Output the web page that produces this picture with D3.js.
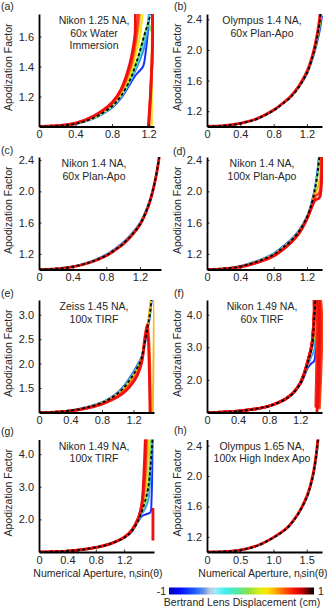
<!DOCTYPE html>
<html><head><meta charset="utf-8">
<script src="https://cdn.jsdelivr.net/npm/d3@7"></script>
<style>
html,body{margin:0;padding:0;background:#fff;}
svg{display:block;}
</style></head><body>
<svg id="chart" width="327" height="608"></svg>
<script>
// ================= DATA =================
// titles
const titleA = ["Nikon 1.25 NA,", "60x Water", "Immersion"];
const titleB = ["Olympus 1.4 NA,", "60x Plan-Apo"];
const titleC = ["Nikon 1.4 NA,", "60x Plan-Apo"];
const titleD = ["Nikon 1.4 NA,", "100x Plan-Apo"];
const titleE = ["Zeiss 1.45 NA,", "100x TIRF"];
const titleF = ["Nikon 1.49 NA,", "60x TIRF"];
const titleG = ["Nikon 1.49 NA,", "100x TIRF"];
const titleH = ["Olympus 1.65 NA,", "100x High Index Apo"];

// tick values / labels
const xTicks04 = [0, 0.4, 0.8, 1.2];
const xTickLabels04 = ["0", "0.4", "0.8", "1.2"];
const xTicks05 = [0, 0.5, 1.0, 1.5];
const xTickLabels05 = ["0", "0.5", "1.0", "1.5"];
const yTicksA = [1.2, 1.4, 1.6];
const yTickLabelsA = ["1.2", "1.4", "1.6"];
const yTicks24 = [1.2, 1.6, 2.0, 2.4];
const yTickLabels24 = ["1.2", "1.6", "2.0", "2.4"];
const yTicksE = [1.5, 2.0, 2.5, 3.0];
const yTickLabelsE = ["1.5", "2.0", "2.5", "3.0"];
const yTicks4 = [2.0, 3.0, 4.0];
const yTickLabels4 = ["2.0", "3.0", "4.0"];

// colour of each Bertrand-lens displacement (cm)
const dispColorDomain = [-1, -0.6, -0.3, 0, 0.3, 0.6, 0.8, 1];
const dispColorRange = ["#1830ff", "#3c8cf0", "#40d4f0", "#7ee050", "#f0e818", "#ff9a10", "#ff4010", "#ee1010"];

// colour bar stops (position 0..1 from -1 to 1)
const colorbarPos = [0, 0.08, 0.18, 0.24, 0.28, 0.32, 0.38, 0.47, 0.55, 0.63, 0.68, 0.73, 0.79, 0.86, 0.92, 0.97, 1];
const colorbarCol = ["#0000c0", "#0010ff", "#2060ff", "#6090f0", "#b8c8d8", "#a0e8f8", "#40f0f0", "#50e8a8", "#90e040", "#e0f010", "#ffe000", "#ffb000", "#ff6000", "#ff1000", "#c00000", "#400000", "#100000"];

// ---- (a) Nikon 1.25 NA water ----
const aNominal = [[0,1],[0.2,1.004],[0.4,1.018],[0.6,1.058],[0.8,1.135],[0.9,1.205],[1.0,1.315],[1.05,1.395],[1.1,1.49],[1.15,1.60],[1.2,1.70],[1.23,1.78]];
const aDisp = [-1, -0.6, -0.3, 0, 0.3, 0.6, 0.8, 1];
const aCurves = [
 [[0,1],[0.2,1.004],[0.4,1.017],[0.6,1.054],[0.8,1.125],[0.9,1.19],[1.0,1.285],[1.05,1.335],[1.1,1.37],[1.14,1.40],[1.17,1.50],[1.2,1.68],[1.22,1.85]],
 [[0,1],[0.2,1.004],[0.4,1.017],[0.6,1.055],[0.8,1.129],[0.9,1.197],[1.0,1.30],[1.05,1.365],[1.1,1.435],[1.15,1.52],[1.19,1.65],[1.21,1.85]],
 [[0,1],[0.2,1.004],[0.4,1.017],[0.6,1.056],[0.8,1.131],[0.9,1.20],[1.0,1.305],[1.05,1.38],[1.1,1.46],[1.15,1.57],[1.2,1.71],[1.23,1.85]],
 [[0,1],[0.2,1.004],[0.4,1.018],[0.6,1.058],[0.8,1.135],[0.9,1.21],[1.0,1.32],[1.05,1.40],[1.1,1.49],[1.15,1.60],[1.2,1.69],[1.225,1.64],[1.232,1.64],[1.232,1.30]],
 [[0,1],[0.2,1.005],[0.4,1.019],[0.6,1.062],[0.8,1.143],[0.9,1.22],[1.0,1.345],[1.05,1.45],[1.1,1.58],[1.15,1.80],[1.2,1.9],[1.236,1.9],[1.236,1.62],[1.236,1.0]],
 [[0,1],[0.2,1.005],[0.4,1.02],[0.6,1.066],[0.8,1.15],[0.9,1.23],[1.0,1.375],[1.05,1.50],[1.1,1.70],[1.13,1.9],[1.208,1.9],[1.208,1.0]],
 [[0,1],[0.2,1.005],[0.4,1.021],[0.6,1.068],[0.8,1.155],[0.9,1.24],[1.0,1.40],[1.05,1.55],[1.1,1.80],[1.12,1.9],[1.203,1.9],[1.203,1.0]],
 [[0,1],[0.2,1.006],[0.4,1.022],[0.6,1.07],[0.8,1.16],[0.9,1.25],[1.0,1.43],[1.05,1.60],[1.09,1.9],[1.198,1.9],[1.198,1.0]]
];

// ---- (b) Olympus 1.4 NA 60x ----
const bNominal = [[0,1],[0.2,1.01],[0.4,1.04],[0.6,1.10],[0.8,1.21],[0.9,1.29],[1.0,1.38],[1.1,1.51],[1.2,1.70],[1.25,1.85],[1.3,2.05],[1.35,2.35],[1.38,2.7]];
const bDisp = [-1, 0, 1];
const bCurves = [
 [[0,1],[0.2,1.01],[0.4,1.04],[0.6,1.10],[0.8,1.21],[0.9,1.29],[1.0,1.38],[1.1,1.51],[1.2,1.69],[1.25,1.83],[1.3,2.01],[1.35,2.24],[1.38,2.45]],
 [[0,1],[0.2,1.01],[0.4,1.04],[0.6,1.10],[0.8,1.21],[0.9,1.29],[1.0,1.38],[1.1,1.51],[1.2,1.70],[1.25,1.84],[1.3,2.03],[1.35,2.30],[1.38,2.55]],
 [[0,1],[0.2,1.01],[0.4,1.042],[0.6,1.103],[0.8,1.215],[0.9,1.297],[1.0,1.39],[1.1,1.525],[1.2,1.72],[1.25,1.87],[1.3,2.08],[1.35,2.40],[1.38,2.8]]
];

// ---- (c) Nikon 1.4 NA 60x ----
const cNominal = [[0,1],[0.2,1.01],[0.4,1.035],[0.6,1.09],[0.8,1.18],[0.9,1.25],[1.0,1.33],[1.1,1.44],[1.2,1.58],[1.3,1.82],[1.35,2.0],[1.4,2.25],[1.45,2.6]];
const cDisp = [-1, 0, 1];
const cCurves = [
 [[0,1],[0.2,1.01],[0.4,1.038],[0.6,1.097],[0.8,1.19],[0.9,1.262],[1.0,1.345],[1.1,1.455],[1.2,1.595],[1.3,1.835],[1.35,2.01],[1.4,2.26],[1.45,2.6]],
 [[0,1],[0.2,1.01],[0.4,1.036],[0.6,1.093],[0.8,1.185],[0.9,1.255],[1.0,1.337],[1.1,1.447],[1.2,1.587],[1.3,1.827],[1.35,2.005],[1.4,2.255],[1.45,2.6]],
 [[0,1],[0.2,1.009],[0.4,1.033],[0.6,1.086],[0.8,1.175],[0.9,1.244],[1.0,1.323],[1.1,1.432],[1.2,1.572],[1.3,1.81],[1.35,1.99],[1.4,2.24],[1.45,2.6]]
];

// ---- (d) Nikon 1.4 NA 100x ----
const dNominal = [[0,1],[0.2,1.01],[0.4,1.04],[0.6,1.10],[0.8,1.19],[0.9,1.27],[1.0,1.36],[1.1,1.48],[1.2,1.67],[1.25,1.82],[1.3,2.05],[1.34,2.35],[1.36,2.6],[1.38,2.9]];
const dDisp = [-1, -0.5, 0, 0.5, 0.8, 1];
const dCurves = [
 [[0,1],[0.2,1.01],[0.4,1.043],[0.6,1.108],[0.8,1.204],[0.9,1.285],[1.0,1.376],[1.1,1.496],[1.2,1.68],[1.25,1.835],[1.3,2.07],[1.34,2.40],[1.36,2.68],[1.38,3.0]],
 [[0,1],[0.2,1.01],[0.4,1.042],[0.6,1.105],[0.8,1.2],[0.9,1.28],[1.0,1.37],[1.1,1.49],[1.2,1.675],[1.25,1.83],[1.3,2.06],[1.34,2.37],[1.36,2.64],[1.38,3.0]],
 [[0,1],[0.2,1.01],[0.4,1.04],[0.6,1.10],[0.8,1.195],[0.9,1.272],[1.0,1.362],[1.1,1.482],[1.2,1.67],[1.25,1.815],[1.3,2.03],[1.34,2.3],[1.36,2.5],[1.38,2.9]],
 [[0,1],[0.2,1.009],[0.4,1.037],[0.6,1.094],[0.8,1.185],[0.9,1.26],[1.0,1.35],[1.1,1.47],[1.2,1.66],[1.25,1.80],[1.3,1.98],[1.34,2.08],[1.36,2.25],[1.38,2.9]],
 [[0,1],[0.2,1.008],[0.4,1.035],[0.6,1.09],[0.8,1.178],[0.9,1.252],[1.0,1.342],[1.1,1.462],[1.2,1.655],[1.25,1.79],[1.3,1.94],[1.34,1.97],[1.36,2.02],[1.38,2.9]],
 [[0,1],[0.2,1.008],[0.4,1.033],[0.6,1.086],[0.8,1.172],[0.9,1.245],[1.0,1.335],[1.1,1.455],[1.2,1.648],[1.25,1.78],[1.3,1.89],[1.34,1.91],[1.36,1.95],[1.375,2.9]]
];

// ---- (e) Zeiss 1.45 NA TIRF ----
const eNominal = [[0,1],[0.2,1.01],[0.4,1.04],[0.6,1.10],[0.8,1.20],[0.9,1.28],[1.0,1.39],[1.1,1.55],[1.2,1.78],[1.25,1.92],[1.3,2.1],[1.35,2.5],[1.38,2.75],[1.41,3.05],[1.44,3.5]];
const eDisp = [-1, -0.5, 0, 0.5, 0.75, 1];
const eCurves = [
 [[0,1],[0.2,1.01],[0.4,1.043],[0.6,1.106],[0.8,1.21],[0.9,1.295],[1.0,1.41],[1.1,1.585],[1.2,1.83],[1.25,1.97],[1.3,2.13],[1.35,2.45],[1.38,2.7],[1.41,3.0],[1.44,3.5]],
 [[0,1],[0.2,1.01],[0.4,1.042],[0.6,1.103],[0.8,1.205],[0.9,1.29],[1.0,1.40],[1.1,1.57],[1.2,1.81],[1.25,1.95],[1.3,2.12],[1.35,2.48],[1.38,2.72],[1.41,3.02],[1.44,3.5]],
 [[0,1],[0.2,1.01],[0.4,1.04],[0.6,1.10],[0.8,1.20],[0.9,1.28],[1.0,1.39],[1.1,1.55],[1.2,1.78],[1.25,1.92],[1.3,2.1],[1.35,2.5],[1.38,2.76],[1.42,3.2],[1.445,3.5]],
 [[0,1],[0.2,1.009],[0.4,1.037],[0.6,1.095],[0.8,1.19],[0.9,1.26],[1.0,1.36],[1.1,1.51],[1.2,1.72],[1.25,1.86],[1.3,2.05],[1.35,2.55],[1.38,2.8],[1.42,3.3],[1.445,3.5],[1.445,1.0]],
 [[0,1],[0.2,1.008],[0.4,1.035],[0.6,1.09],[0.8,1.18],[0.9,1.25],[1.0,1.34],[1.1,1.47],[1.2,1.67],[1.25,1.81],[1.3,2.02],[1.35,2.6],[1.38,2.78],[1.415,1.0]],
 [[0,1],[0.2,1.008],[0.4,1.033],[0.6,1.085],[0.8,1.17],[0.9,1.24],[1.0,1.32],[1.1,1.44],[1.2,1.63],[1.25,1.77],[1.3,2.0],[1.35,2.55],[1.375,2.8],[1.41,1.0]]
];

// ---- (f) Nikon 1.49 NA 60x TIRF ----
const fNominal = [[0,1],[0.2,1.01],[0.4,1.04],[0.6,1.10],[0.8,1.20],[1.0,1.40],[1.1,1.57],[1.2,1.88],[1.25,2.15],[1.3,2.55],[1.35,3.0],[1.38,3.9],[1.4,4.6]];
const fDisp = [-1, -0.5, 0, 0.5, 0.8, 0.9, 0.95, 1];
const fCurves = [
 [[0,1],[0.2,1.01],[0.4,1.04],[0.6,1.10],[0.8,1.20],[1.0,1.40],[1.1,1.57],[1.2,1.86],[1.25,2.1],[1.3,2.38],[1.35,2.52],[1.38,2.58],[1.4,3.6],[1.42,4.7]],
 [[0,1],[0.2,1.01],[0.4,1.04],[0.6,1.10],[0.8,1.20],[1.0,1.40],[1.1,1.57],[1.2,1.87],[1.25,2.12],[1.3,2.45],[1.35,2.75],[1.38,2.9],[1.4,3.9],[1.42,4.7]],
 [[0,1],[0.2,1.01],[0.4,1.04],[0.6,1.10],[0.8,1.20],[1.0,1.40],[1.1,1.57],[1.2,1.88],[1.25,2.15],[1.3,2.52],[1.35,2.95],[1.38,3.3],[1.4,4.2],[1.42,4.7]],
 [[0,1],[0.2,1.01],[0.4,1.04],[0.6,1.10],[0.8,1.20],[1.0,1.40],[1.1,1.575],[1.2,1.89],[1.25,2.17],[1.3,2.58],[1.35,3.05],[1.38,3.6],[1.4,4.6]],
 [[0,1],[0.2,1.01],[0.4,1.04],[0.6,1.10],[0.8,1.20],[1.0,1.40],[1.1,1.58],[1.2,1.90],[1.25,2.18],[1.3,2.59],[1.35,3.08],[1.38,3.95],[1.395,4.6],[1.445,4.6],[1.445,1.1]],
 [[0,1],[0.2,1.01],[0.4,1.04],[0.6,1.10],[0.8,1.20],[1.0,1.40],[1.1,1.58],[1.2,1.90],[1.25,2.19],[1.3,2.6],[1.35,3.09],[1.38,4.0],[1.392,4.6],[1.40,4.6],[1.40,1.15]],
 [[0,1],[0.2,1.01],[0.4,1.04],[0.6,1.10],[0.8,1.20],[1.0,1.40],[1.1,1.58],[1.2,1.90],[1.25,2.2],[1.3,2.6],[1.35,3.1],[1.38,4.05],[1.39,4.6],[1.43,4.6],[1.43,1.15]],
 [[0,1],[0.2,1.01],[0.4,1.04],[0.6,1.10],[0.8,1.20],[1.0,1.40],[1.1,1.58],[1.2,1.90],[1.25,2.2],[1.3,2.6],[1.35,3.1],[1.38,4.1],[1.39,4.6],[1.415,4.6],[1.415,1.0]]
];

// ---- (g) Nikon 1.49 NA 100x TIRF ----
const gNominal = [[0,1],[0.2,1.01],[0.4,1.03],[0.6,1.07],[0.8,1.14],[1.0,1.25],[1.2,1.44],[1.3,1.62],[1.4,1.98],[1.45,2.25],[1.5,2.6],[1.54,3.0],[1.57,3.6],[1.6,4.5]];
const gDisp = [-1, -0.5, 0, 0.4, 0.7, 0.85, 1];
const gCurves = [
 [[0,1],[0.2,1.01],[0.4,1.03],[0.6,1.07],[0.8,1.14],[1.0,1.25],[1.2,1.435],[1.3,1.605],[1.4,1.95],[1.45,2.1],[1.5,2.15],[1.54,2.18],[1.57,2.22],[1.585,2.6],[1.6,4.6]],
 [[0,1],[0.2,1.01],[0.4,1.03],[0.6,1.07],[0.8,1.14],[1.0,1.25],[1.2,1.437],[1.3,1.61],[1.4,1.96],[1.45,2.17],[1.5,2.35],[1.54,2.6],[1.57,3.4],[1.595,4.6]],
 [[0,1],[0.2,1.01],[0.4,1.03],[0.6,1.07],[0.8,1.14],[1.0,1.25],[1.2,1.44],[1.3,1.62],[1.4,1.98],[1.45,2.25],[1.5,2.55],[1.54,3.1],[1.56,3.8],[1.58,4.6]],
 [[0,1],[0.2,1.01],[0.4,1.03],[0.6,1.07],[0.8,1.14],[1.0,1.25],[1.2,1.445],[1.3,1.63],[1.4,2.0],[1.45,2.32],[1.5,2.85],[1.53,3.8],[1.55,4.6]],
 [[0,1],[0.2,1.01],[0.4,1.03],[0.6,1.07],[0.8,1.14],[1.0,1.25],[1.2,1.45],[1.3,1.64],[1.4,2.02],[1.45,2.4],[1.5,3.3],[1.52,4.6]],
 [[0,1],[0.2,1.01],[0.4,1.03],[0.6,1.07],[0.8,1.14],[1.0,1.25],[1.2,1.45],[1.3,1.645],[1.4,2.03],[1.45,2.45],[1.49,3.4],[1.51,4.6]],
 [[0,1],[0.2,1.01],[0.4,1.03],[0.6,1.07],[0.8,1.14],[1.0,1.25],[1.2,1.455],[1.3,1.65],[1.4,2.05],[1.45,2.5],[1.48,3.5],[1.5,4.6],[1.6,null],[1.605,2.35],[1.605,1.35]]
];

// ---- (h) Olympus 1.65 NA ----
const hNominal = [[0,1],[0.25,1.005],[0.5,1.025],[0.75,1.08],[1.0,1.19],[1.2,1.31],[1.3,1.41],[1.4,1.54],[1.5,1.72],[1.55,1.85],[1.6,2.03],[1.65,2.32],[1.7,2.8]];
const hDisp = [-1, 0, 1];
const hCurves = [
 [[0,1],[0.25,1.005],[0.5,1.025],[0.75,1.08],[1.0,1.19],[1.2,1.31],[1.3,1.41],[1.4,1.54],[1.5,1.71],[1.55,1.84],[1.6,2.01],[1.65,2.28],[1.7,2.7]],
 [[0,1],[0.25,1.005],[0.5,1.025],[0.75,1.08],[1.0,1.19],[1.2,1.31],[1.3,1.41],[1.4,1.54],[1.5,1.712],[1.55,1.84],[1.6,2.012],[1.65,2.29],[1.7,2.72]],
 [[0,1],[0.25,1.005],[0.5,1.026],[0.75,1.082],[1.0,1.193],[1.2,1.315],[1.3,1.415],[1.4,1.548],[1.5,1.73],[1.55,1.86],[1.6,2.045],[1.65,2.34],[1.7,2.85]]
];

const yAxisTitle = "Apodization Factor";
const xAxisTitleMain = "Numerical Aperture, n";
const xAxisTitleSub = "i";
const xAxisTitleEnd = "sin(\u03b8)";
const colorbarTitle = "Bertrand Lens Displacement (cm)";
const colorbarMinLabel = "-1";
const colorbarMaxLabel = "1";

// ================= LAYOUT =================
const FONT = "'Liberation Sans', Arial, sans-serif";
const TXT = "#262626";
const panels = [
 {lab:"(a)", title:titleA, nom:aNominal, disp:aDisp, curves:aCurves, xd:[0,1.26], yd:[1,1.75], xt:xTicks04, xl:xTickLabels04, yt:yTicksA, yl:yTickLabelsA, box:[39,154,14,126.5], labXY:[1,10], col:0},
 {lab:"(b)", title:titleB, nom:bNominal, disp:bDisp, curves:bCurves, xd:[0,1.38], yd:[1,2.47], xt:xTicks04, xl:xTickLabels04, yt:yTicks24, yl:yTickLabels24, box:[207,322,14,126.5], labXY:[174,10], col:1},
 {lab:"(c)", title:titleC, nom:cNominal, disp:cDisp, curves:cCurves, xd:[0,1.45], yd:[1,2.44], xt:xTicks04, xl:xTickLabels04, yt:yTicks24, yl:yTickLabels24, box:[39,161,157,269.5], labXY:[1,154], col:0},
 {lab:"(d)", title:titleD, nom:dNominal, disp:dDisp, curves:dCurves, xd:[0,1.38], yd:[1,2.44], xt:xTicks04, xl:xTickLabels04, yt:yTicks24, yl:yTickLabels24, box:[207,322,157,269.5], labXY:[173,155], col:1},
 {lab:"(e)", title:titleE, nom:eNominal, disp:eDisp, curves:eCurves, xd:[0,1.46], yd:[1,3.3], xt:xTicks04, xl:xTickLabels04, yt:yTicksE, yl:yTickLabelsE, box:[39,154,300,412.5], labXY:[1,297], col:0},
 {lab:"(f)", title:titleF, nom:fNominal, disp:fDisp, curves:fCurves, xd:[0,1.48], yd:[1,4.45], xt:xTicks04, xl:xTickLabels04, yt:yTicks4, yl:yTickLabels4, box:[207,322,300,412.5], labXY:[174,297], col:1},
 {lab:"(g)", title:titleG, nom:gNominal, disp:gDisp, curves:gCurves, xd:[0,1.62], yd:[1,4.45], xt:xTicks04, xl:xTickLabels04, yt:yTicks4, yl:yTickLabels4, box:[39,154,439.5,552], labXY:[1,435], col:0},
 {lab:"(h)", title:titleH, nom:hNominal, disp:hDisp, curves:hCurves, xd:[0,1.73], yd:[1,2.48], xt:xTicks05, xl:xTickLabels05, yt:yTicks24, yl:yTickLabels24, box:[207,322,439.5,552], labXY:[174,434], col:1}
];

const svg = d3.select("#chart");
const color = d3.scaleLinear().domain(dispColorDomain).range(dispColorRange);

panels.forEach((p, pi) => {
  const [L, R, T, B] = p.box;
  const x = d3.scaleLinear().domain(p.xd).range([L, R]);
  const y = d3.scaleLinear().domain(p.yd).range([B, T]);
  const clipId = "clip" + pi;
  svg.append("clipPath").attr("id", clipId).append("rect")
    .attr("x", L).attr("y", T).attr("width", R - L + 1).attr("height", B - T);
  const g = svg.append("g").attr("clip-path", `url(#${clipId})`);
  const line = d3.line().defined(d => d[1] != null)
    .x(d => x(d[0])).y(d => y(d[1])).curve(d3.curveCatmullRom.alpha(0.5));
  p.curves.forEach((c, i) => {
    const dv = p.disp[i];
    g.append("path").attr("d", line(c)).attr("fill", "none")
      .attr("stroke", color(dv)).attr("stroke-width", dv >= 0.75 ? 2.8 : 2.0)
      .attr("stroke-linejoin", "round");
  });
  g.append("path").attr("d", line(p.nom)).attr("fill", "none")
    .attr("stroke", "#000").attr("stroke-width", 1.8).attr("stroke-dasharray", "3,2.4");

  // axes
  const ax = svg.append("g").attr("transform", `translate(0,${B})`)
    .call(d3.axisBottom(x).tickValues(p.xt).tickFormat((d, i) => p.xl[i]).tickSizeInner(-2.5).tickSizeOuter(0).tickPadding(4));
  const ay = svg.append("g").attr("transform", `translate(${L},0)`)
    .call(d3.axisLeft(y).tickValues(p.yt).tickFormat((d, i) => p.yl[i]).tickSizeInner(-2.5).tickSizeOuter(0).tickPadding(5));
  [ax, ay].forEach(a => {
    a.select(".domain").attr("stroke", "#000").attr("stroke-width", 1.8);
    a.selectAll(".tick line").attr("stroke", "#000").attr("stroke-width", 0.8);
    a.selectAll(".tick text").attr("font-family", FONT).attr("font-size", 11).attr("fill", TXT);
  });

  // title
  const t = svg.append("text").attr("font-family", FONT).attr("font-size", 10.5)
    .attr("fill", TXT).attr("text-anchor", "middle");
  p.title.forEach((s, i) => {
    t.append("tspan").attr("x", L + 55).attr("y", T + 10 + i * 12.6).text(s);
  });
  // panel label
  svg.append("text").attr("x", p.labXY[0]).attr("y", p.labXY[1]).attr("font-family", FONT)
    .attr("font-size", 10.5).attr("fill", TXT).text(p.lab);
  // y axis title
  const yl = p.col === 0 ? 12 : 181;
  svg.append("text").attr("transform", `translate(${yl},${(T + B) / 2 - 3}) rotate(-90)`)
    .attr("text-anchor", "middle").attr("font-family", FONT).attr("font-size", 10.5)
    .attr("fill", TXT).text(yAxisTitle);
});

// x axis titles
[[98, 577], [263, 577]].forEach(([cx, cy]) => {
  const t = svg.append("text").attr("x", cx).attr("y", cy).attr("text-anchor", "middle")
    .attr("font-family", FONT).attr("font-size", 10.5).attr("fill", TXT);
  t.append("tspan").text(xAxisTitleMain);
  t.append("tspan").attr("font-size", 6.5).attr("dy", 2).text(xAxisTitleSub);
  t.append("tspan").attr("dy", -2).text(xAxisTitleEnd);
});

// colour bar
const defs = svg.append("defs");
const grad = defs.append("linearGradient").attr("id", "cbar").attr("x1", "0").attr("x2", "1").attr("y1", "0").attr("y2", "0");
colorbarPos.forEach((o, i) => grad.append("stop").attr("offset", o).attr("stop-color", colorbarCol[i]));
const cbScale = d3.scaleLinear().domain([-1, 1]).range([169, 314]);
svg.append("rect").attr("x", cbScale(-1)).attr("y", 587.5).attr("width", cbScale(1) - cbScale(-1)).attr("height", 7)
  .attr("fill", "url(#cbar)");
svg.append("text").attr("x", cbScale(-1) - 3).attr("y", 595).attr("text-anchor", "end")
  .attr("font-family", FONT).attr("font-size", 10.5).attr("fill", TXT).text(colorbarMinLabel);
svg.append("text").attr("x", cbScale(1) + 4).attr("y", 595).attr("text-anchor", "start")
  .attr("font-family", FONT).attr("font-size", 10.5).attr("fill", TXT).text(colorbarMaxLabel);
svg.append("text").attr("x", 242).attr("y", 606).attr("text-anchor", "middle")
  .attr("font-family", FONT).attr("font-size", 10.5).attr("fill", TXT).text(colorbarTitle);
</script>
</body></html>
